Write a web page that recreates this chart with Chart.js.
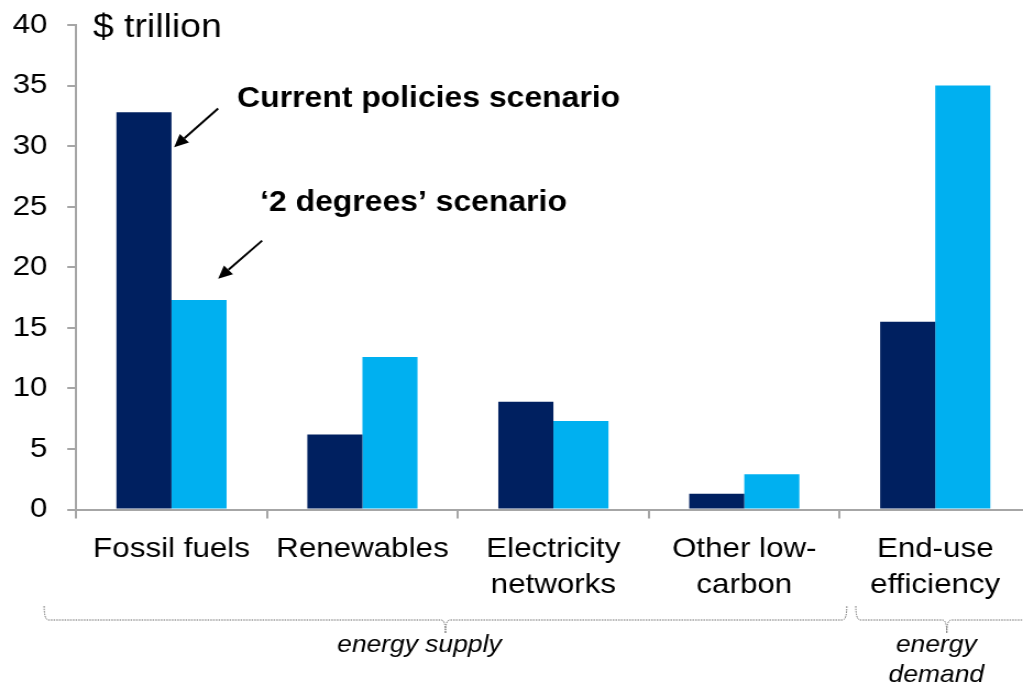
<!DOCTYPE html>
<html>
<head>
<meta charset="utf-8">
<script src="https://cdn.jsdelivr.net/npm/chart.js@4/dist/chart.umd.min.js"></script>
<style>
  html, body { margin: 0; padding: 0; background: #fff; overflow: hidden; width: 1023px; height: 684px; }
  #wrap { position: absolute; left: 0; top: 0; width: 940px; height: 684px; transform: scaleX(1.1); transform-origin: 0 0; }
  canvas { display: block; }
</style>
</head>
<body>
<div id="wrap"><canvas id="chart" width="940" height="684"></canvas></div>
<script>
// Investment needs by category, $ trillion
const categories = [['Fossil fuels'], ['Renewables'], ['Electricity', 'networks'], ['Other low-', 'carbon'], ['End-use', 'efficiency']];
const currentPolicies = [32.8, 6.2, 8.9, 1.3, 15.5];
const twoDegrees = [17.3, 12.6, 7.3, 2.9, 35.0];
const seriesNames = ['Current policies scenario', '\u20182 degrees\u2019 scenario'];
const unitLabel = '$ trillion';
const yRange = { min: 0, max: 40, step: 5 };
const supplyLabel = ['energy supply'];
const demandLabel = ['energy', 'demand'];

const FONT = "'Liberation Sans', Arial, Helvetica, sans-serif";
const AXIS_GREY = '#a6a6a6';
Chart.defaults.font.family = FONT;

function arrow(ctx, x0, y0, x1, y1) {
  const ang = Math.atan2(y1 - y0, x1 - x0);
  const len = 13, hw = 6;
  const bx = x1 - len * Math.cos(ang), by = y1 - len * Math.sin(ang);
  ctx.beginPath();
  ctx.moveTo(x0, y0);
  ctx.lineTo(bx, by);
  ctx.lineWidth = 2;
  ctx.strokeStyle = '#000';
  ctx.stroke();
  ctx.beginPath();
  ctx.moveTo(x1, y1);
  ctx.lineTo(bx + hw * Math.sin(ang), by - hw * Math.cos(ang));
  ctx.lineTo(bx - hw * Math.sin(ang), by + hw * Math.cos(ang));
  ctx.closePath();
  ctx.fillStyle = '#000';
  ctx.fill();
}

function bracket(ctx, x0, x1, yTop, yLine, yTip) {
  const xm = (x0 + x1) / 2, r = 4;
  ctx.beginPath();
  ctx.moveTo(x0, yTop);
  ctx.quadraticCurveTo(x0, yLine, x0 + r, yLine);
  ctx.lineTo(xm - r, yLine);
  ctx.quadraticCurveTo(xm, yLine, xm, yTip);
  ctx.moveTo(xm, yTip);
  ctx.quadraticCurveTo(xm, yLine, xm + r, yLine);
  ctx.lineTo(x1 - r, yLine);
  ctx.quadraticCurveTo(x1, yLine, x1, yTop);
  ctx.stroke();
}

const notes = {
  id: 'notes',
  afterDraw(chart) {
    const { ctx, scales: { x, y } } = chart;
    const half = (x.getPixelForValue(1) - x.getPixelForValue(0)) / 2;
    const edge = i => x.getPixelForValue(i) - half;
    const c0 = x.getPixelForValue(0);
    ctx.save();

    // unit label above the value axis
    ctx.fillStyle = '#000';
    ctx.textBaseline = 'alphabetic';
    ctx.textAlign = 'left';
    ctx.font = `34px ${FONT}`;
    ctx.fillText(unitLabel, 84.5, 37);

    // scenario call-outs with arrows
    ctx.font = `bold 29px ${FONT}`;
    ctx.fillText(seriesNames[0], c0 + 59.7, 107);
    ctx.fillText(seriesNames[1], c0 + 80.6, 211);
    arrow(ctx, c0 + 42.4, y.getPixelForValue(33.1), c0 + 2.4, y.getPixelForValue(29.9));
    arrow(ctx, c0 + 82.4, y.getPixelForValue(22.2), c0 + 42.4, y.getPixelForValue(19.05));

    // group brackets under the category labels
    ctx.strokeStyle = '#6f6f6f';
    ctx.lineWidth = 1;
    ctx.setLineDash([1.5, 1]);
    bracket(ctx, edge(0) - 29, edge(4) + 6.4, 606, 620, 633);
    bracket(ctx, edge(4) + 14.6, edge(5) + 6.4, 606, 620, 633);
    ctx.setLineDash([]);

    ctx.fillStyle = '#000';
    ctx.textAlign = 'center';
    ctx.font = `italic 24px ${FONT}`;
    ctx.fillText(supplyLabel[0], (edge(0) + edge(4)) / 2 - 35, 652);
    ctx.fillText(demandLabel[0], x.getPixelForValue(4) + 1, 652);
    ctx.fillText(demandLabel[1], x.getPixelForValue(4) + 1, 682);
    ctx.restore();
  }
};

new Chart(document.getElementById('chart'), {
  type: 'bar',
  data: {
    labels: categories,
    datasets: [
      { label: seriesNames[0], data: currentPolicies, backgroundColor: '#002060', barPercentage: 1, categoryPercentage: 0.577 },
      { label: seriesNames[1], data: twoDegrees, backgroundColor: '#00B0F0', barPercentage: 1, categoryPercentage: 0.577 }
    ]
  },
  options: {
    responsive: false,
    animation: false,
    devicePixelRatio: 1,
    layout: { padding: { top: 25, right: 3, left: 0, bottom: 0 } },
    plugins: { legend: { display: false }, tooltip: { enabled: false } },
    scales: {
      x: {
        grid: { drawOnChartArea: false, tickLength: 9, color: AXIS_GREY, lineWidth: 2, offset: true },
        border: { color: AXIS_GREY, width: 2 },
        ticks: { color: '#000', font: { size: 28.5, lineHeight: 1.26 }, padding: 12.5, maxRotation: 0, autoSkip: false },
        afterFit(s) { s.height = 174.5; s.paddingLeft = 0; s.paddingRight = 0; }
      },
      y: {
        min: yRange.min,
        max: yRange.max,
        ticks: { stepSize: yRange.step, color: '#000', font: { size: 28.5 }, padding: 18 },
        grid: { drawOnChartArea: false, tickLength: 8, color: AXIS_GREY, lineWidth: 2 },
        border: { color: AXIS_GREY, width: 2 },
        afterFit(s) { s.width = 69.1; s.paddingTop = 0; s.paddingBottom = 0; }
      }
    }
  },
  plugins: [notes]
});
</script>
</body>
</html>
